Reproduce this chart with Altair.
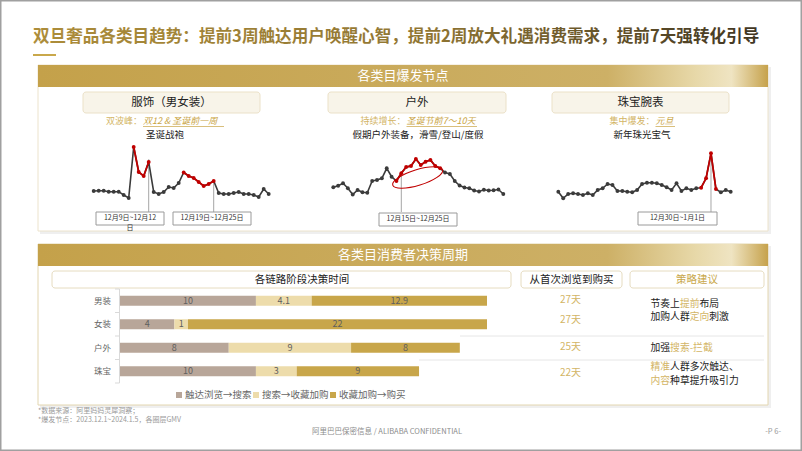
import altair as alt
import pandas as pd

FONT = "Noto Sans CJK SC"
GOLD = "#c9a84b"
PALE_GOLD = "#d3b566"
INK = "#222222"
GREY = "#666666"
LINE_DARK = "#3b3b3b"
RED = "#c00000"

# ---------------- data ----------------
title_text = "双旦奢品各类目趋势：提前3周触达用户唤醒心智，提前2周放大礼遇消费需求，提前7天强转化引导"

# top panel: daily GMV index read from the three sparklines (2023.12.1 ~ 2024.1.5)
clothing_gmv = [9, 9.3, 9.3, 8.3, 8.3, 8.3, 5, 2, 53, 28, 24, 38, 8, 6, 8, 13, 12, 17,
                27.5, 24, 22, 18, 14, 16, 19, 7, 6, 6, 7, 8, 6, 6, 5, 3, 11, 6]
outdoor_gmv = [12.7, 14.3, 16.7, 11.7, 5.5, 10, 7.7, 7.3, 19, 20, 21.7, 31.7, 23.3, 19,
               26.7, 33, 34, 41, 35, 38.3, 40, 34, 31.7, 27.5, 26, 19, 14.5, 12.5, 11.7,
               9.5, 8.5, 10.2, 9.5, 9.7, 10.5, 6]
jewelry_gmv = [8.3, 1.7, 6, 6.7, 6, 5, 6.7, 5, 10, 11.7, 16, 15, 9, 9, 8.3, 7.7, 10, 16,
               17.3, 17.3, 16.7, 15, 12.7, 10, 16.7, 9, 11.7, 10, 11.7, 12.3, 21.7, 46.7,
               11, 7.7, 10, 8.3]
clothing_red = [(8, 11), (18, 24)]
outdoor_red = [(13, 22)]
jewelry_red = [(29, 32)]
clothing_marks = [11, 24]
outdoor_marks = [14]
jewelry_marks = [31]
date_labels = ["12月9日~12月12\n日", "12月19日~12月25日", "12月15日~12月25日", "12月30日~1月1日"]

panel_titles = ["服饰（男女装）", "户外", "珠宝腕表"]
peak_types = ["双波峰：", "持续增长：", "集中爆发："]
peak_times = ["双12 & 圣诞前一周", "圣诞节前7～10天", "元旦"]
peak_themes = ["圣诞战袍", "假期户外装备，滑雪/登山/度假", "新年珠光宝气"]

# bottom panel
categories = ["男装", "女装", "户外", "珠宝"]
stages = ["触达浏览→搜索", "搜索→收藏加购", "收藏加购→购买"]
stage_colors = ["#b8a699", "#eddcab", "#c8a64a"]
reach_to_search = [10, 4, 8, 10]
search_to_cart = [4.1, 1, 9, 3]
cart_to_buy = [12.9, 22, 8, 9]
total_days = ["27天", "27天", "25天", "22天"]
strategy_lines = [
    [("节奏上", 0), ("提前", 1), ("布局", 0)],
    [("加购人群", 0), ("定向", 1), ("刺激", 0)],
    [("加强", 0), ("搜索-拦截", 1)],
    [("精准", 1), ("人群多次触达、", 0)],
    [("内容", 1), ("种草提升吸引力", 0)],
]
footnotes = ["*数据来源：阿里妈妈灵犀洞察；", "*爆发节点：2023.12.1~2024.1.5，各圈层GMV"]

# ---------------- layout (decoration positions, px) ----------------
spark_x_ranges = [(93.7, 268.7), (333.3, 503.3), (558.3, 730.7)]
spark_y_px = [200, 140]
spark_domain = [0, 60]
title_box_x = [(83, 260), (328, 506), (552, 729)]
title_centers = [171.5, 417, 640.5]
theme_centers = [165, 418, 642]
peak_split = [142.5, 406, 655]
peak_underline_end = [224, 477, 675]
date_boxes = [(96, 212, 164, 225), (173, 212, 251, 225), (379, 213, 457, 226), (638, 212, 717, 225)]
strategy_y = [303.5, 316.5, 348, 367, 380.5]
days_y = [300, 320, 347, 373]
bar_x_px = [120, 487]
bar_band_px = [289, 383]


def cjk_width(s, fs):
    w = 0
    for ch in s:
        w += fs * (0.35 if ord(ch) < 128 else 1.0)
    return w


def rect_layer(df, **kw):
    return alt.Chart(df).mark_rect(**kw).encode(
        x=alt.X("x:Q", scale=None, axis=None), x2="x2:Q",
        y=alt.Y("y:Q", scale=None, axis=None), y2="y2:Q",
        color=alt.Color("fill:N", scale=None, legend=None),
        stroke=alt.Stroke("stroke:N", scale=None, legend=None),
    )


def text_layer(rows, align="center", baseline="middle", **kw):
    df = pd.DataFrame(rows, columns=["x", "y", "t", "c", "fs"])
    return alt.Chart(df).mark_text(align=align, baseline=baseline, font=FONT, **kw).encode(
        x=alt.X("x:Q", scale=None, axis=None), y=alt.Y("y:Q", scale=None, axis=None),
        text="t:N", color=alt.Color("c:N", scale=None, legend=None),
        size=alt.Size("fs:Q", scale=None, legend=None),
    )


layers = []

# slide frame
layers.append(rect_layer(pd.DataFrame([dict(x=0.75, x2=801.25, y=0.75, y2=450.25, fill="#ffffff", stroke="#a0a0a0")]), strokeWidth=1.5))

# panels with soft shadow
panels = pd.DataFrame([
    dict(x=40, x2=771, y=67, y2=234, fill="#efefef", stroke="transparent"),
    dict(x=40, x2=771, y=246, y2=408, fill="#efefef", stroke="transparent"),
    dict(x=38, x2=768, y=65, y2=231, fill="#ffffff", stroke="#ece3cc"),
    dict(x=38, x2=768, y=244, y2=405, fill="#ffffff", stroke="#e3d6b0"),
    dict(x=33, x2=56, y=54, y2=56, fill=GOLD, stroke="transparent"),
])
layers.append(rect_layer(panels, strokeWidth=1))

header_grad = alt.Gradient(
    gradient="linear", x1=0, x2=1, y1=0, y2=0,
    stops=[alt.GradientStop(color="#c4a14a", offset=0),
           alt.GradientStop(color="#cdb066", offset=0.78),
           alt.GradientStop(color="#e7d8a8", offset=0.9),
           alt.GradientStop(color="#efe4c2", offset=0.95),
           alt.GradientStop(color="#c6a24c", offset=1)])
headers = pd.DataFrame([dict(x=38, x2=768, y=65, y2=87), dict(x=38, x2=768, y=244, y2=266)])
layers.append(alt.Chart(headers).mark_rect(color=header_grad).encode(
    x=alt.X("x:Q", scale=None, axis=None), x2="x2:Q",
    y=alt.Y("y:Q", scale=None, axis=None), y2="y2:Q"))

boxes = []
for (a, b) in title_box_x:
    boxes.append(dict(x=a, x2=b, y=92, y2=113, fill="#f8f4e9", stroke="#ebe1c8"))
for (a, b) in [(52, 511), (521, 622), (630, 764)]:
    boxes.append(dict(x=a, x2=b, y=271, y2=288, fill="#ffffff", stroke="#e6dcc0"))
layers.append(rect_layer(pd.DataFrame(boxes), strokeWidth=1, cornerRadius=3))

# separators in the bottom table
seps = pd.DataFrame([dict(x=460, x2=764, y=336), dict(x=419, x2=764, y=360)])
layers.append(alt.Chart(seps).mark_rule(color="#e6e6e6", strokeWidth=1).encode(
    x=alt.X("x:Q", scale=None, axis=None), x2="x2:Q", y=alt.Y("y:Q", scale=None, axis=None)))

# ---------------- sparklines ----------------
def spark(values, xr, reds, marks):
    df = pd.DataFrame({"i": list(range(len(values))), "v": values})
    xs = alt.Scale(domain=[0, len(values) - 1], range=list(xr), nice=False, zero=False)
    ys = alt.Scale(domain=spark_domain, range=spark_y_px, nice=False, zero=False)
    X = alt.X("i:Q", scale=xs, axis=None)
    Y = alt.Y("v:Q", scale=ys, axis=None)
    out = []
    mk = pd.DataFrame({"i": marks, "v": [values[m] for m in marks]})
    out.append(alt.Chart(mk).mark_rule(color="#a6a6a6", strokeWidth=1).encode(x=X, y=Y, y2=alt.value(212)))
    base = alt.Chart(df)
    out.append(base.mark_line(color=LINE_DARK, strokeWidth=1.6).encode(x=X, y=Y))
    cond = " || ".join(f"(datum.i >= {lo} && datum.i <= {hi})" for lo, hi in reds)
    for lo, hi in reds:
        out.append(base.transform_filter(f"datum.i >= {lo} && datum.i <= {hi}")
                   .mark_line(color=RED, strokeWidth=1.8).encode(x=X, y=Y))
    out.append(base.transform_filter(f"!({cond})").mark_point(filled=True, size=15, opacity=1, color=LINE_DARK).encode(x=X, y=Y))
    out.append(base.transform_filter(cond).mark_point(filled=True, size=15, opacity=1, color=RED).encode(x=X, y=Y))
    return out


layers += spark(clothing_gmv, spark_x_ranges[0], clothing_red, clothing_marks)
layers += spark(outdoor_gmv, spark_x_ranges[1], outdoor_red, outdoor_marks)
layers += spark(jewelry_gmv, spark_x_ranges[2], jewelry_red, jewelry_marks)

# ellipse highlighting the outdoor growth period
ellipse = "M-1,0A1,0.3,0,1,1,1,0A1,0.3,0,1,1,-1,0Z"
layers.append(alt.Chart(pd.DataFrame({"k": [0]})).mark_point(
    shape=ellipse, size=2725, angle=343, filled=False, color=RED, strokeWidth=1.1, opacity=1
).encode(x=alt.value(417.7), y=alt.value(177.5)))

# date boxes
db = pd.DataFrame([dict(x=a, y=b, x2=c, y2=d, fill="#ffffff", stroke="#9a9a9a") for a, b, c, d in date_boxes])
layers.append(rect_layer(db, strokeWidth=1))
date_rows = [((a + c) / 2, b + 1.5, t, "#333333", 7) for (a, b, c, d), t in zip(date_boxes, date_labels)]
layers.append(text_layer(date_rows, baseline="top", lineBreak="\n", lineHeight=10))

# ---------------- stacked bars ----------------
bar_rows = []
for j, (s, vals) in enumerate(zip(stages, [reach_to_search, search_to_cart, cart_to_buy])):
    for i, c in enumerate(categories):
        bar_rows.append(dict(cat=c, stage=s, order=j, value=vals[i], label=f"{vals[i]:g}"))
bars_df = pd.DataFrame(bar_rows)
bx = alt.Scale(domain=[0, 27], range=bar_x_px, nice=False, zero=False)
by = alt.Scale(type="band", domain=categories, range=bar_band_px, paddingInner=0, paddingOuter=0)
stage_scale = alt.Scale(domain=stages, range=stage_colors)
stacked = alt.Chart(bars_df).transform_stack(
    stack="value", groupby=["cat"], as_=["v0", "v1"], sort=[alt.SortField("order", order="ascending")])
layers.append(stacked.mark_bar(size=10).encode(
    x=alt.X("v0:Q", scale=bx, axis=None), x2="v1:Q",
    y=alt.Y("cat:N", scale=by, axis=None),
    color=alt.Color("stage:N", scale=stage_scale, legend=None)))
layers.append(stacked.transform_calculate(mid="(datum.v0 + datum.v1) / 2").mark_text(
    font=FONT, fontSize=9, color="#5f5f5f", baseline="middle").encode(
    x=alt.X("mid:Q", scale=bx, axis=None), y=alt.Y("cat:N", scale=by, axis=None), text="label:N"))

cat_df = pd.DataFrame({"cat": categories})
layers.append(alt.Chart(cat_df).mark_text(font=FONT, fontSize=8.5, color=GREY, align="right", baseline="middle").encode(
    x=alt.value(111), y=alt.Y("cat:N", scale=by, axis=None), text="cat:N"))
layers.append(text_layer([(570.5, yy, t, PALE_GOLD, 10) for yy, t in zip(days_y, total_days)]))

# category axis line and ticks
axis_df = pd.DataFrame([dict(x=119.5, x2=119.5, y=289, y2=383)] +
                       [dict(x=115, x2=119.5, y=v, y2=v) for v in [289, 312.5, 336, 359.5, 383]])
layers.append(alt.Chart(axis_df).mark_rule(color="#d9d9d9", strokeWidth=1).encode(
    x=alt.X("x:Q", scale=None, axis=None), x2="x2:Q",
    y=alt.Y("y:Q", scale=None, axis=None), y2="y2:Q"))

# legend
leg_df = pd.DataFrame({"stage": stages})
leg_x = alt.Scale(type="point", domain=stages, range=[179, 333], padding=0)
layers.append(alt.Chart(leg_df).mark_square(size=36, opacity=1).encode(
    x=alt.X("stage:N", scale=leg_x, axis=None), y=alt.value(395),
    color=alt.Color("stage:N", scale=stage_scale, legend=None)))
layers.append(alt.Chart(leg_df).mark_text(font=FONT, fontSize=9.5, color=GREY, align="left", baseline="middle", dx=6).encode(
    x=alt.X("stage:N", scale=leg_x, axis=None), y=alt.value(395), text="stage:N"))

# ---------------- texts ----------------
title_grad = alt.Gradient(
    gradient="linear", x1=0, x2=1, y1=0, y2=0,
    stops=[alt.GradientStop(color="#ad8d3a", offset=0),
           alt.GradientStop(color="#8f7532", offset=0.55),
           alt.GradientStop(color="#3f3522", offset=1)])
layers.append(alt.Chart(pd.DataFrame({"t": [title_text]})).mark_text(
    font=FONT, fontSize=16.6, fontWeight="bold", align="left", baseline="middle", color=title_grad).encode(
    x=alt.value(33), y=alt.value(37), text="t:N"))

center_rows = [
    (403, 76, "各类目爆发节点", "#ffffff", 13),
    (403, 255, "各类目消费者决策周期", "#ffffff", 13),
    (302, 280, "各链路阶段决策时间", INK, 10.5),
    (571.5, 280, "从首次浏览到购买", INK, 10.5),
    (697, 280, "策略建议", GOLD, 10.5),
    (387, 432, "阿里巴巴保密信息 / ALIBABA CONFIDENTIAL", "#8c8c8c", 7.5),
]
for cx, t in zip(title_centers, panel_titles):
    center_rows.append((cx, 102.5, t, INK, 11.5))
for cx, t in zip(theme_centers, peak_themes):
    center_rows.append((cx, 135, t, INK, 9.5))
layers.append(text_layer(center_rows))

layers.append(text_layer([(sx - 0.5, 121, t, PALE_GOLD, 9) for sx, t in zip(peak_split, peak_types)], align="right"))
layers.append(text_layer([(sx + 0.5, 121, t, "#c9a443", 9) for sx, t in zip(peak_split, peak_times)], align="left", fontStyle="italic"))
ul = pd.DataFrame([dict(x=sx + 0.5, x2=e, y=126.5) for sx, e in zip(peak_split, peak_underline_end)])
layers.append(alt.Chart(ul).mark_rule(color="#c9a443", strokeWidth=0.7).encode(
    x=alt.X("x:Q", scale=None, axis=None), x2="x2:Q", y=alt.Y("y:Q", scale=None, axis=None)))

left_rows = [(38, 411, footnotes[0], "#9a9a9a", 7), (38, 420, footnotes[1], "#9a9a9a", 7)]
for yy, segs in zip(strategy_y, strategy_lines):
    x0 = 650.5
    for s, hot in segs:
        left_rows.append((x0, yy, s, PALE_GOLD if hot else INK, 9.8))
        x0 += cjk_width(s, 9.8)
layers.append(text_layer(left_rows, align="left"))
layers.append(text_layer([(781, 432, "-P 6-", "#9a9a9a", 7.5)], align="right"))

chart = alt.layer(*layers).resolve_scale(
    x="independent", y="independent", color="independent", size="independent", stroke="independent"
).properties(
    width=802, height=451, padding=0, autosize=alt.AutoSizeParams(type="none"), background="#ffffff"
).configure_view(stroke=None)

chart.save("out.html", embed_options={"renderer": "svg", "actions": False})
